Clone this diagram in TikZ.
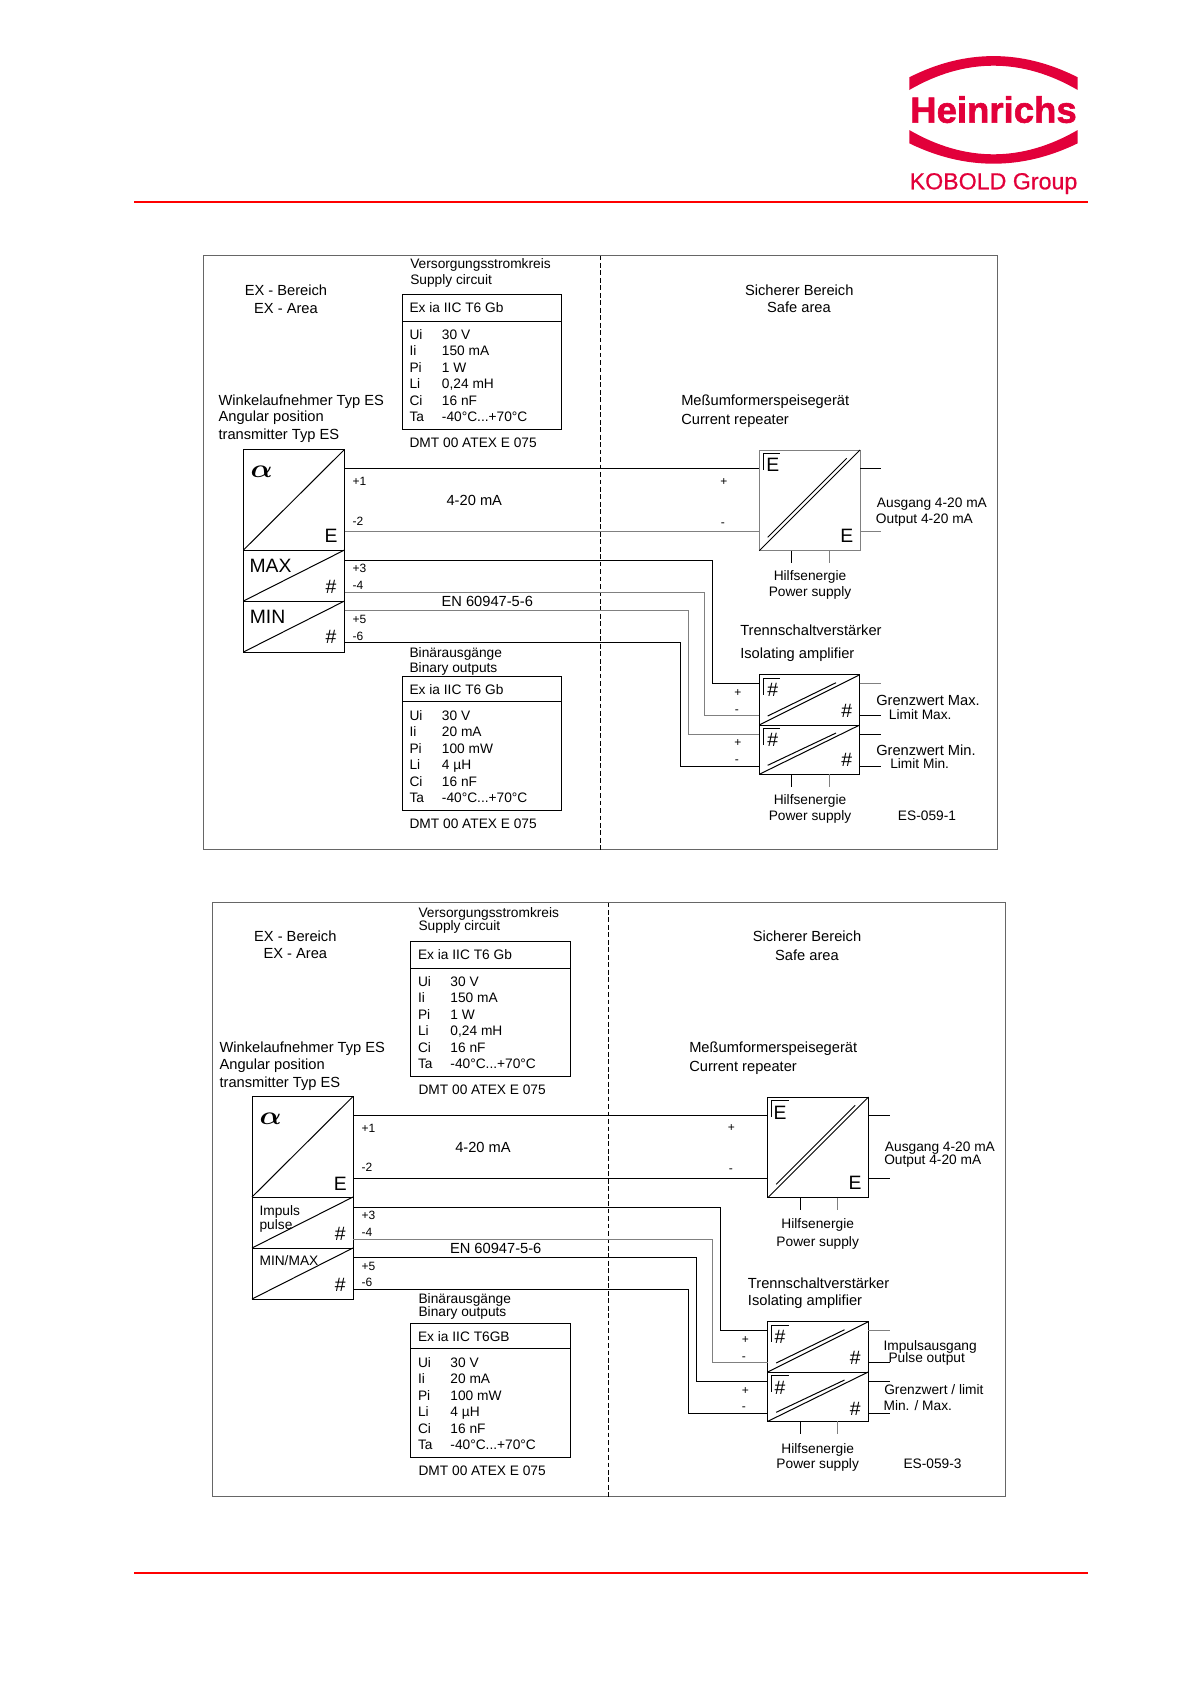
\documentclass[tikz,border=0pt]{standalone}
\usepackage{fontspec}
\setmainfont{Liberation Sans}
\newfontfamily\logofat[FakeBold=1.6]{Liberation Sans Bold}
\newfontfamily\logomid[FakeBold=0.6]{Liberation Sans}
\usetikzlibrary{calc}
\definecolor{logored}{HTML}{E2003A}
\newcommand{\headtxt}{\fontsize{11pt}{13pt}\selectfont}
\newcommand{\bodytxt}{\fontsize{10.3pt}{12pt}\selectfont}
\newcommand{\pintxt}{\fontsize{9pt}{11pt}\selectfont}
\newcommand{\signtxt}{\fontsize{14.5pt}{16pt}\selectfont}
\newcommand{\tarange}{-40°C...+70°C}

\begin{document}
\begin{tikzpicture}[x=0.75pt,y=-0.75pt,
  box/.style={draw,line width=0.75pt,outer sep=0pt,inner sep=0pt,anchor=north west},
  wire/.style={line width=0.75pt},
  redrule/.style={draw=red,line width=1.4pt},
  headleft/.style={inner sep=0pt,anchor=west,text height=7.5pt,text depth=0pt,font=\headtxt},
  headmid/.style={headleft,anchor=center},
  bodyleft/.style={inner sep=0pt,anchor=west,text height=7.2pt,text depth=0pt,font=\bodytxt},
  bodymid/.style={bodyleft,anchor=center},
  pinleft/.style={inner sep=0pt,anchor=west,text height=6.5pt,text depth=0pt,font=\pintxt},
  signmid/.style={inner sep=0pt,text height=10.4pt,text depth=0pt,font=\signtxt}]
\useasboundingbox (0,0) rectangle (1192,1685);
%rules at the head and foot of the page
\coordinate (rulea) at (134,202);
\coordinate (ruleb) at (1087.7,202);
\coordinate (rulec) at (134,1573);
\coordinate (ruled) at (1087.7,1573);
\draw[redrule] (rulea) -- (ruleb);
\draw[redrule] (rulec) -- (ruled);
%logo
\fill[logored] (909.3,77.3) .. controls (965,49) and (1022,49) .. (1077.7,77.3)
  -- (1077.7,90) .. controls (1022,57.6) and (965,57.6) .. (909.3,90) -- cycle;
\fill[logored] (909.3,130) .. controls (965,162.4) and (1022,162.4) .. (1077.7,130)
  -- (1077.7,143.3) .. controls (1022,170.5) and (965,170.5) .. (909.3,143.3) -- cycle;
\node[inner sep=0pt,anchor=base,text=logored,font=\fontsize{27.4pt}{30pt}\selectfont\logofat] (logoa) at (993.5,122.7) {Heinrichs};
\node[inner sep=0pt,anchor=base,text=logored,font=\fontsize{17.4pt}{20pt}\selectfont\logomid] (logob) at (993.5,189.3) {KOBOLD Group};
%both panels share boxes and wiring
\foreach \p/\dx/\dy/\fade/\hdr in {a/0/0/gray/Ex ia IIC T6 Gb,b/8.5/647/black/Ex ia IIC T6GB}{
\begin{scope}[shift={(\dx,\dy)}]
\foreach \b/\bx/\by/\bw/\bh/\bc in {frame/203.5/255.5/793.5/594/black!60,
    sens/243.5/449.5/101/100.5/black,sensb/243.5/550/101/51/black,sensc/243.5/601/101/51/black,
    rep/759.3/450/100.7/100.7/\fade,ampa/759.3/674.7/100.4/50.3/black,ampb/759.3/725/100.4/49.3/black,
    taba/402.3/294.7/159.4/135/black,tabb/402.3/676.7/159.4/133.6/black}
  \node[box,draw=\bc,minimum width=\bw*0.75pt,minimum height=\bh*0.75pt] (\p-\b) at (\bx,\by) {};
%dashed border between the areas
\coordinate (\p-diva) at (600,255.5);
\coordinate (\p-divb) at (600,849.5);
\draw[wire,dash pattern=on 3.6pt off 2pt] (\p-diva) -- (\p-divb);
%diagonals
\foreach \b in {sens,sensb,sensc,rep,ampa,ampb}
  \draw[wire] (\p-\b.south west) -- (\p-\b.north east);
%second line and corner mark in the repeaters
\draw[wire] ($(\p-rep.south west)+(8.4,-13.4)$) -- ($(\p-rep.north east)+(-13.3,8.3)$);
\foreach \b in {ampa,ampb}
  \draw[wire] ($(\p-\b.south west)+(8.4,-9)$) -- ($(\p-\b.north east)+(-23.7,8)$);
\foreach \b in {rep,ampa,ampb}
  \draw[wire] (\p-\b.north west)+(4,20) -- +(4,3.5) -- +(21,3.5);
%wires from the transmitter
\foreach \w/\yo/\yi/\wc/\dist in {1/468.3/468.3/black/0,2/531.3/531.3/\fade/0,3/560.3/683.7/black/47,
    4/592.3/715.3/gray/55,5/610.3/734.7/\fade/71,6/642.3/766/black/79}{
  \coordinate (\p-out\w) at (344.5,\yo);
  \coordinate (\p-in\w) at (759.3,\yi);
  \draw[wire,draw=\wc] (\p-out\w) -| ($(\p-in\w)-(\dist,0)$) -- (\p-in\w);
}
%outputs on the right
\foreach \s/\y/\b/\wc in {1/468.3/rep/black,2/531.3/rep/\fade,3/683.7/ampa/gray,
    4/715.3/ampa/black,5/734.7/ampb/black,6/766/ampb/black}{
  \coordinate (\p-stub\s) at (881,\y);
  \draw[wire,draw=\wc] (\p-stub\s -| \p-\b.east) -- (\p-stub\s);
}
%power feeds
\foreach \s/\x/\y/\b/\wc in {1/791.7/562.7/rep/black,2/829/562.7/rep/gray,3/791.7/786.7/ampb/black,4/829/786.7/ampb/gray}{
  \coordinate (\p-feed\s) at (\x,\y);
  \draw[wire,draw=\wc] (\p-feed\s |- \p-\b.south) -- (\p-feed\s);
}
%tables
\draw[wire] ($(\p-taba.north west)+(0,26.6)$) -- ($(\p-taba.north east)+(0,26.6)$);
\draw[wire] ($(\p-tabb.north west)+(0,24.6)$) -- ($(\p-tabb.north east)+(0,24.6)$);
\node[bodyleft] (\p-hdra) at ($(\p-taba.north west)+(7,13.3)$) {Ex ia IIC T6 Gb};
\node[bodyleft] (\p-hdrb) at ($(\p-tabb.north west)+(7,13.3)$) {\hdr};
\foreach \s/\v [count=\r] in {Ui/30 V,Ii/150 mA,Pi/1 W,Li/{0,24 mH},Ci/16 nF,Ta/\tarange}{
  \node[bodyleft] (\p-rowa\r) at ($(\p-taba.north west)+(7,39.6+16.54*\r-16.54)$) {\s};
  \node[bodyleft] (\p-vala\r) at ($(\p-taba.north west)+(39.4,39.6+16.54*\r-16.54)$) {\v};
}
\foreach \s/\v [count=\r] in {Ui/30 V,Ii/20 mA,Pi/100 mW,Li/4 µH,Ci/16 nF,Ta/\tarange}{
  \node[bodyleft] (\p-rowb\r) at ($(\p-tabb.north west)+(7,38.6+16.54*\r-16.54)$) {\s};
  \node[bodyleft] (\p-valb\r) at ($(\p-tabb.north west)+(39.4,38.6+16.54*\r-16.54)$) {\v};
}
\end{scope}
}
%alpha
\node[inner sep=0pt] (a-alpha) at (261.7,472) {\resizebox{16.5pt}{8.6pt}{\boldmath$\alpha$}};
\node[inner sep=0pt] (b-alpha) at (270.7,1118.3) {\resizebox{16.5pt}{8.6pt}{\boldmath$\alpha$}};
%large signs in the boxes
\foreach \tx/\ty/\txt [count=\n] in {331/536/E,270.5/566/MAX,331/587/\#,267.5/616.7/MIN,331/637/\#,
    772.7/465/E,846.7/535.7/E,772.7/690/\#,846.7/710.7/\#,772.7/740/\#,846.7/760/\#,
    340.3/1183.3/E,340.3/1233.3/\#,340.3/1284.3/\#,
    780/1112.3/E,855/1182.7/E,780/1336.7/\#,855.3/1357.3/\#,780/1387.3/\#,855.3/1408.3/\#}
  \node[signmid] (sign\n) at (\tx,\ty) {\txt};
%pin numbers and polarity
\foreach \tx/\ty/\txt [count=\n] in {352.3/480.7/+1,352.3/520.7/-2,352.3/568.3/+3,352.3/585/-4,352.3/619/+5,352.3/635.7/-6,
    720/480.7/+,720.5/521.7/-,734/691.7/+,734.5/709/-,734/742.3/+,734.5/759.3/-,
    361.3/1127.7/+1,361.3/1167.3/-2,361.3/1215.3/+3,361.3/1231.7/-4,361.3/1266/+5,361.3/1282/-6,
    727.5/1127.3/+,728.5/1167.7/-,741.5/1339/+,741.5/1356/-,741.5/1389.7/+,741.5/1406/-}
  \node[pinleft] (pin\n) at (\tx,\ty) {\txt};
%captions, larger ones
\foreach \tx/\ty/\txt [count=\n] in {218.3/400.7/Winkelaufnehmer Typ ES,218.3/416.7/Angular position,218.3/434/transmitter Typ ES,
    681/400.7/Meßumformerspeisegerät,681/419/Current repeater,740/630.7/Trennschaltverstärker,740/653.3/Isolating amplifier,
    876/700/Grenzwert Max.,876/750.7/Grenzwert Min.,
    219.3/1047.3/Winkelaufnehmer Typ ES,219.3/1064.7/Angular position,219.3/1082.7/transmitter Typ ES,
    689/1047.3/Meßumformerspeisegerät,689/1066.7/Current repeater,747.7/1283.3/Trennschaltverstärker,747.7/1300/Isolating amplifier}
  \node[headleft] (cap\n) at (\tx,\ty) {\txt};
%captions, smaller ones
\foreach \tx/\ty/\txt [count=\n] in {410/264/Versorgungsstromkreis,410/280/Supply circuit,409.3/442.7/DMT 00 ATEX E 075,
    409.3/652.7/Binärausgänge,409.3/667.3/Binary outputs,409.3/823.3/DMT 00 ATEX E 075,
    876.7/502.7/Ausgang 4-20 mA,875.7/518.3/Output 4-20 mA,888.7/715/Limit Max.,890/763.3/Limit Min.,897.7/815.7/ES-059-1,
    418.3/912.3/Versorgungsstromkreis,418.3/926/Supply circuit,418.3/1090/DMT 00 ATEX E 075,
    259.3/1210.7/Impuls,259.3/1225/pulse,259.3/1261/{MIN/MAX},
    418.3/1299/Binärausgänge,418.3/1311.7/Binary outputs,418.3/1471/DMT 00 ATEX E 075,
    884.7/1146.7/Ausgang 4-20 mA,884/1160/Output 4-20 mA,883.3/1346/Impulsausgang,888.3/1357.3/Pulse output,
    884/1389.3/{Grenzwert / limit},883.3/1406/{Min. / Max.},903.3/1464/ES-059-3}
  \node[bodyleft] (txt\n) at (\tx,\ty) {\txt};
%centred captions
\foreach \tx/\ty/\txt [count=\n] in {286/290/EX - Bereich,286/308/EX - Area,799.3/290/Sicherer Bereich,799/307.3/Safe area,
    474.3/500/4-20 mA,487.3/601.7/EN 60947-5-6,
    295.3/936.7/EX - Bereich,295.3/953.3/EX - Area,807/936.7/Sicherer Bereich,807/955.7/Safe area,
    483/1147/4-20 mA,495.7/1248.3/EN 60947-5-6}
  \node[headmid] (mid\n) at (\tx,\ty) {\txt};
\foreach \tx/\ty/\txt [count=\n] in {810/576/Hilfsenergie,810/591.7/Power supply,810/800/Hilfsenergie,810/815.7/Power supply,
    817.7/1223.3/Hilfsenergie,817.7/1241.3/Power supply,817.7/1448.3/Hilfsenergie,817.7/1464/Power supply}
  \node[bodymid] (feedtxt\n) at (\tx,\ty) {\txt};
\end{tikzpicture}
\end{document}
